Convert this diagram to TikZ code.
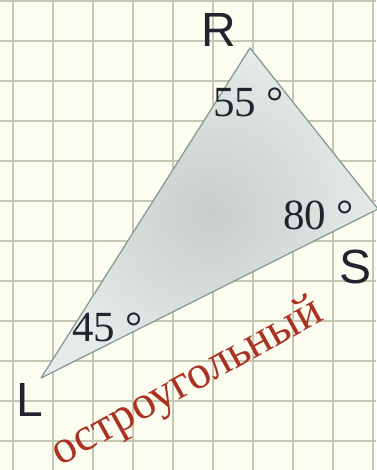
\documentclass[tikz,border=0pt]{standalone}
\usepackage{fontspec}
\setmainfont{Liberation Serif}
\newfontfamily\labfont{Liberation Sans}
\definecolor{paper}{RGB}{252,253,240}
\definecolor{gridc}{RGB}{196,200,178}
\definecolor{triedge}{RGB}{132,158,148}
\definecolor{trimid}{RGB}{200,206,203}
\definecolor{triout}{RGB}{230,234,232}
\definecolor{inkdark}{RGB}{35,35,48}
\definecolor{redtxt}{RGB}{170,50,35}
\begin{document}
\begin{tikzpicture}[x=1pt,y=-1pt,
  vlabel/.style={font=\labfont\fontsize{48}{48}\selectfont, text=inkdark, inner sep=0},
  anglab/.style={font=\fontsize{43}{43}\selectfont, text=inkdark, inner sep=0, anchor=base west},
  gridline/.style={gridc, line width=1.8pt}]
\fill[paper] (0,0) rectangle (376,470);
\useasboundingbox (0,0) rectangle (376,470);
\foreach \i in {0,...,9} \draw[gridline] (13+40*\i,0) -- (13+40*\i,470);
\foreach \j in {0,...,11} \draw[gridline] (0,1+40*\j) -- (376,1+40*\j);
\coordinate (R) at (250,48);
\coordinate (S) at (378,209);
\coordinate (L) at (41,378);
\shade[inner color=trimid, outer color=triout] (R) -- (S) -- (L) -- cycle;
\draw[triedge, line width=1.3pt, line join=round] (R) -- (S) -- (L) -- cycle;
\node[vlabel] (lR) at (219,29.5) {R};
\node[vlabel] (lS) at (355.5,266.5) {S};
\node[vlabel] (lL) at (29.5,400) {L};
\node[anglab] (a55) at (213,117) {55 °};
\node[anglab] (a80) at (283,229) {80 °};
\node[anglab] (a45) at (72,341) {45 °};
\node[font=\fontsize{47}{47}\selectfont, text=redtxt, rotate=29, anchor=base, inner sep=0] (typ) at (193,393) {остроугольный};
\end{tikzpicture}
\end{document}
